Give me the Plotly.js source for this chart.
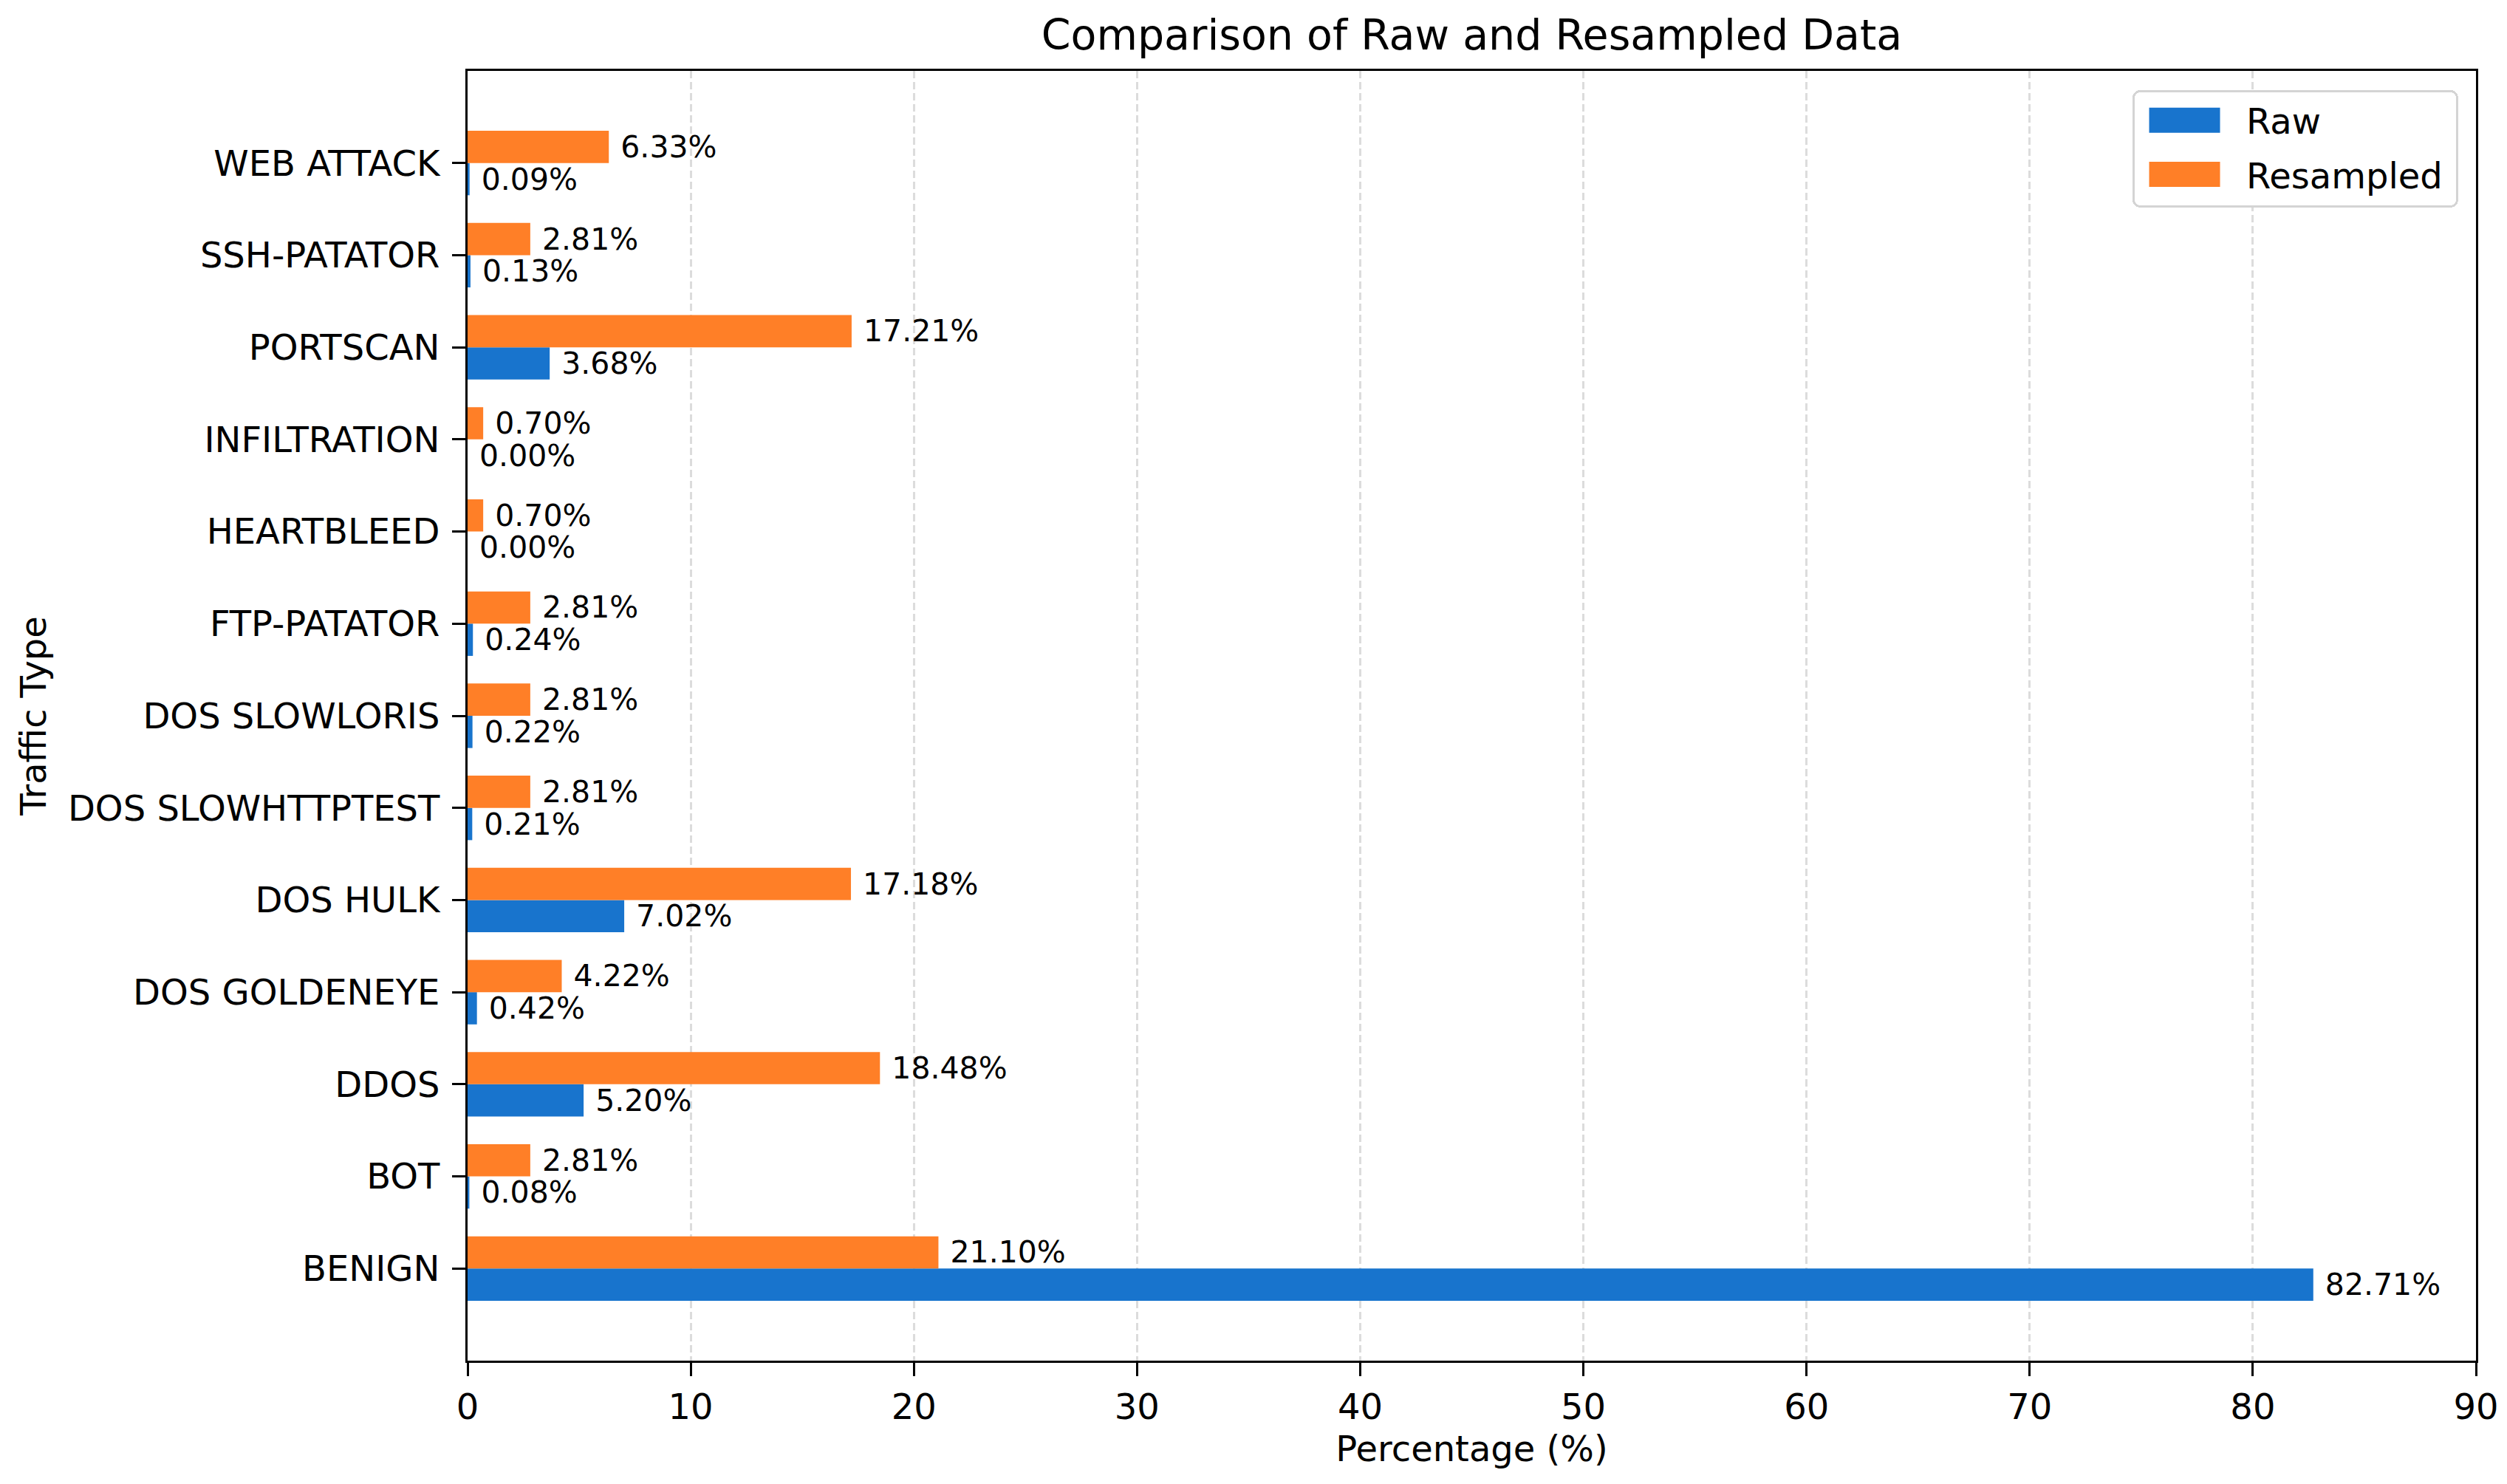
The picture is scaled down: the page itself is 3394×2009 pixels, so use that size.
<!DOCTYPE html>
<html>
<head>
<meta charset="utf-8">
<script src="https://cdn.plot.ly/plotly-3.0.1.min.js"></script>
<style>html,body{margin:0;padding:0;background:#fff;} #chart{width:3394px;height:2009px;}</style>
</head>
<body>
<div id="chart"></div>
<script>
const categories = ["BENIGN","BOT","DDOS","DOS GOLDENEYE","DOS HULK","DOS SLOWHTTPTEST","DOS SLOWLORIS","FTP-PATATOR","HEARTBLEED","INFILTRATION","PORTSCAN","SSH-PATATOR","WEB ATTACK"];
const rawValues = [82.71, 0.08, 5.20, 0.42, 7.02, 0.21, 0.22, 0.24, 0.00, 0.00, 3.68, 0.13, 0.09];
const resampledValues = [21.10, 2.81, 18.48, 4.22, 17.18, 2.81, 2.81, 2.81, 0.70, 0.70, 17.21, 2.81, 6.33];
const xTicks = [0,10,20,30,40,50,60,70,80,90];

const FONT = "DejaVu Sans, sans-serif";
const labelFont = {family: FONT, size: 41, color: "#000"};

const traces = [
  {
    type: "bar", orientation: "h", name: "Raw", legendgroup: "raw",
    y: categories, x: rawValues,
    marker: {color: "#1874CD", line: {width: 0}},
    texttemplate: "\u00a0%{x:.2f}%", textposition: "outside",
    textfont: labelFont, constraintext: "none", cliponaxis: false,
    hoverinfo: "x+y"
  },
  {
    type: "bar", orientation: "h", name: "Resampled", legendgroup: "res",
    y: categories, x: resampledValues,
    marker: {color: "#FF7F27", line: {width: 0}},
    texttemplate: "\u00a0%{x:.2f}%", textposition: "outside",
    textfont: labelFont, constraintext: "none", cliponaxis: false,
    hoverinfo: "x+y"
  }
];

const layout = {
  width: 3394, height: 2009,
  paper_bgcolor: "#fff", plot_bgcolor: "#fff",
  margin: {l: 633, r: 42, t: 96, b: 167, pad: 0},
  font: {family: FONT, size: 48, color: "#000"},
  title: {text: "Comparison of Raw and Resampled Data", font: {family: FONT, size: 57, color: "#000"},
          x: 0.5, xref: "paper", xanchor: "center", y: 1 - 47/2009, yref: "container", yanchor: "middle"},
  barmode: "group", bargap: 0.3, bargroupgap: 0,
  showlegend: true,
  legend: {x: 0.9864, y: 0.9851, xanchor: "right", yanchor: "top", traceorder: "grouped",
           tracegroupgap: 8, itemwidth: 141,
           bgcolor: "#fff", bordercolor: "#d4d4d4", borderwidth: 3,
           font: {family: FONT, size: 48, color: "#000"}},
  xaxis: {
    range: [0, 90], tickvals: xTicks, ticktext: xTicks.map(String),
    showgrid: true, gridcolor: "#dcdcdc", gridwidth: 3, griddash: "10px,5px",
    zeroline: false, showline: true, mirror: true, linecolor: "#000", linewidth: 3,
    ticks: "outside", ticklen: 18, tickwidth: 3, tickcolor: "#000",
    tickfont: {family: FONT, size: 48, color: "#000"},
    title: {text: "Percentage (%)", font: {family: FONT, size: 48, color: "#000"}, standoff: 14},
    automargin: false, fixedrange: true
  },
  yaxis: {
    type: "category", categoryorder: "array", categoryarray: categories,
    range: [-1, 13],
    showgrid: false, zeroline: false, showline: true, mirror: true, linecolor: "#000", linewidth: 3,
    ticks: "outside", ticklen: 18, tickwidth: 3, tickcolor: "#000", ticklabelstandoff: 7,
    tickfont: {family: FONT, size: 48, color: "#000"},
    title: {text: "Traffic Type", font: {family: FONT, size: 48, color: "#000"}, standoff: 15},
    automargin: false, fixedrange: true
  }
};

Plotly.newPlot("chart", traces, layout, {displayModeBar: false, staticPlot: true}).then(function (gd) {
  // matplotlib-like legend: large rectangular swatches, extra right padding, rounded box corners
  document.querySelectorAll("#chart .legend path.legendbar, #chart .legend .legendpoints path").forEach(function (p) {
    p.setAttribute("d", "M40,17H-56V-17H40Z");
  });
  document.querySelectorAll("#chart .legend rect.bg").forEach(function (r) {
    const w = parseFloat(r.getAttribute("width")) || 0;
    const h = parseFloat(r.getAttribute("height")) || 0;
    r.setAttribute("width", w + 13);
    r.setAttribute("height", h + 4);
    r.setAttribute("rx", 9); r.setAttribute("ry", 9);
  });
});
</script>
</body>
</html>
